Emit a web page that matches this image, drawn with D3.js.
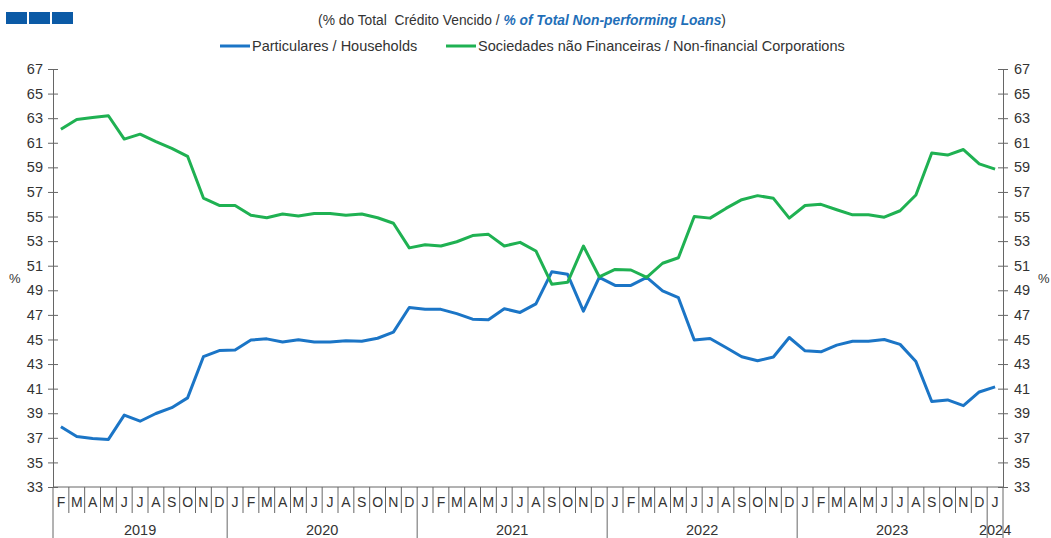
<!DOCTYPE html>
<html>
<head>
<meta charset="utf-8">
<script src="https://cdn.jsdelivr.net/npm/d3@7"></script>
<style>
  body { margin: 0; background: #fff; }
  svg { font-family: "Liberation Sans", Arial, sans-serif; }
</style>
</head>
<body>
<svg width="1051" height="538"></svg>
<script>
// months from Feb 2019 to Jan 2024
const months = ["F","M","A","M","J","J","A","S","O","N","D",
  "J","F","M","A","M","J","J","A","S","O","N","D",
  "J","F","M","A","M","J","J","A","S","O","N","D",
  "J","F","M","A","M","J","J","A","S","O","N","D",
  "J","F","M","A","M","J","J","A","S","O","N","D",
  "J"];
const years = ["2019","2020","2021","2022","2023","2024"];
const yearCounts = [11, 12, 12, 12, 12, 1];

const households = [37.9, 37.1, 36.95, 36.87, 38.85, 38.35, 38.98, 39.45, 40.25, 43.6, 44.1,
  44.15, 44.95, 45.05, 44.8, 44.97, 44.8, 44.8, 44.9, 44.85, 45.1, 45.6, 47.6,
  47.45, 47.45, 47.1, 46.65, 46.6, 47.5, 47.2, 47.9, 50.5, 50.3, 47.3, 50.05,
  49.4, 49.4, 50.05, 48.95, 48.4, 44.95, 45.08, 44.35, 43.6, 43.27, 43.57, 45.16,
  44.08, 44.0, 44.54, 44.86, 44.86, 45.0, 44.6, 43.2, 39.95, 40.08, 39.62, 40.73,
  41.14];
const corporations = [62.1, 62.9, 63.05, 63.2, 61.3, 61.7, 61.1, 60.55, 59.9, 56.5, 55.9,
  55.9, 55.1, 54.9, 55.2, 55.05, 55.25, 55.25, 55.1, 55.2, 54.9, 54.45, 52.45,
  52.7, 52.6, 52.95, 53.45, 53.55, 52.6, 52.9, 52.2, 49.5, 49.65, 52.6, 50.1,
  50.7, 50.65, 50.05, 51.2, 51.65, 55.0, 54.87, 55.66, 56.37, 56.7, 56.48, 54.87,
  55.9, 55.99, 55.55, 55.14, 55.14, 54.95, 55.47, 56.75, 60.16, 60.0, 60.45, 59.28,
  58.85];
const yTicks = d3.range(33, 68, 2);

const series = [
  { name: "Particulares / Households", values: households, color: "#1b75c6" },
  { name: "Sociedades não Financeiras / Non-financial Corporations", values: corporations, color: "#1fb152" }
];

const svg = d3.select("svg");
const plotLeft = 53, plotRight = 1003, plotTop = 69, plotBottom = 487;
const axisColor = "#666", textColor = "#333";

const x = d3.scaleBand().domain(d3.range(months.length)).range([plotLeft, plotRight]).padding(0);
const y = d3.scaleLinear().domain([33, 67]).range([plotBottom, plotTop]);

// header squares
svg.append("g").selectAll("rect")
  .data([0, 1, 2]).enter().append("rect")
  .attr("x", d => 6 + d * 23).attr("y", 12)
  .attr("width", 21).attr("height", 12)
  .attr("fill", "#0b5aa6");

// title
const title = svg.append("text")
  .attr("x", 522).attr("y", 25)
  .attr("text-anchor", "middle")
  .style("font-size", "13.8px")
  .style("white-space", "pre")
  .attr("fill", textColor);
title.append("tspan").text("(% do Total  Crédito Vencido / ");
title.append("tspan").text("% of Total Non-performing Loans")
  .attr("fill", "#1f6fb8").style("font-style", "italic").style("font-weight", "bold");
title.append("tspan").text(")");

// legend
const legendPos = [220, 446];
const lg = svg.append("g").selectAll("g")
  .data(series).enter().append("g")
  .attr("transform", (d, i) => `translate(${legendPos[i]},46)`);
lg.append("line").attr("x1", 0).attr("x2", 30)
  .attr("stroke", d => d.color).attr("stroke-width", 3);
lg.append("text").attr("x", 32).attr("y", 5)
  .style("font-size", "14.5px").attr("fill", textColor)
  .text(d => d.name);

// y axes
function styleY(g, side) {
  g.select(".domain").attr("stroke", axisColor);
  g.selectAll(".tick line").attr("stroke", axisColor).attr("x1", -5).attr("x2", 5);
  g.selectAll(".tick text").attr("fill", textColor).style("font-size", "14.5px")
    .attr("x", side === "left" ? -10 : 11);
}
svg.append("g").attr("transform", `translate(${plotLeft},0)`)
  .call(d3.axisLeft(y).tickValues(yTicks).tickSize(5).tickSizeOuter(0))
  .call(g => styleY(g, "left"));
svg.append("g").attr("transform", `translate(${plotRight},0)`)
  .call(d3.axisRight(y).tickValues(yTicks).tickSize(5).tickSizeOuter(0))
  .call(g => styleY(g, "right"));

svg.append("text").attr("x", 9).attr("y", 283).style("font-size", "13px")
  .attr("fill", textColor).text("%");
svg.append("text").attr("x", 1038).attr("y", 283).style("font-size", "13px")
  .attr("fill", textColor).text("%");

// x axis: baseline, month separators, year separators
svg.append("line").attr("x1", plotLeft).attr("x2", plotRight)
  .attr("y1", plotBottom).attr("y2", plotBottom).attr("stroke", axisColor);

const yearStarts = [];
let acc = 0;
yearCounts.forEach(c => { yearStarts.push(acc); acc += c; });

svg.append("g").selectAll("line")
  .data(d3.range(1, months.length)).enter().append("line")
  .attr("x1", d => x(d)).attr("x2", d => x(d))
  .attr("y1", plotBottom).attr("y2", d => yearStarts.includes(d) ? 538 : 513)
  .attr("stroke", axisColor);
[plotLeft, plotRight].forEach(px => {
  svg.append("line").attr("x1", px).attr("x2", px)
    .attr("y1", plotBottom).attr("y2", 538).attr("stroke", axisColor);
});

svg.append("g").selectAll("text")
  .data(months).enter().append("text")
  .attr("x", (d, i) => x(i) + x.bandwidth() / 2)
  .attr("y", 507)
  .attr("text-anchor", "middle")
  .style("font-size", "14px").attr("fill", textColor)
  .text(d => d);

svg.append("g").selectAll("text")
  .data(years).enter().append("text")
  .attr("x", (d, i) => x(yearStarts[i]) + yearCounts[i] * x.bandwidth() / 2)
  .attr("y", 535)
  .attr("text-anchor", "middle")
  .style("font-size", "14.5px").attr("fill", textColor)
  .text(d => d);

// lines
const line = d3.line()
  .x((d, i) => x(i) + x.bandwidth() / 2)
  .y(d => y(d));

svg.append("g").selectAll("path")
  .data(series).enter().append("path")
  .attr("d", d => line(d.values))
  .attr("fill", "none")
  .attr("stroke", d => d.color)
  .attr("stroke-width", 3)
  .attr("stroke-linejoin", "round");
</script>
</body>
</html>
